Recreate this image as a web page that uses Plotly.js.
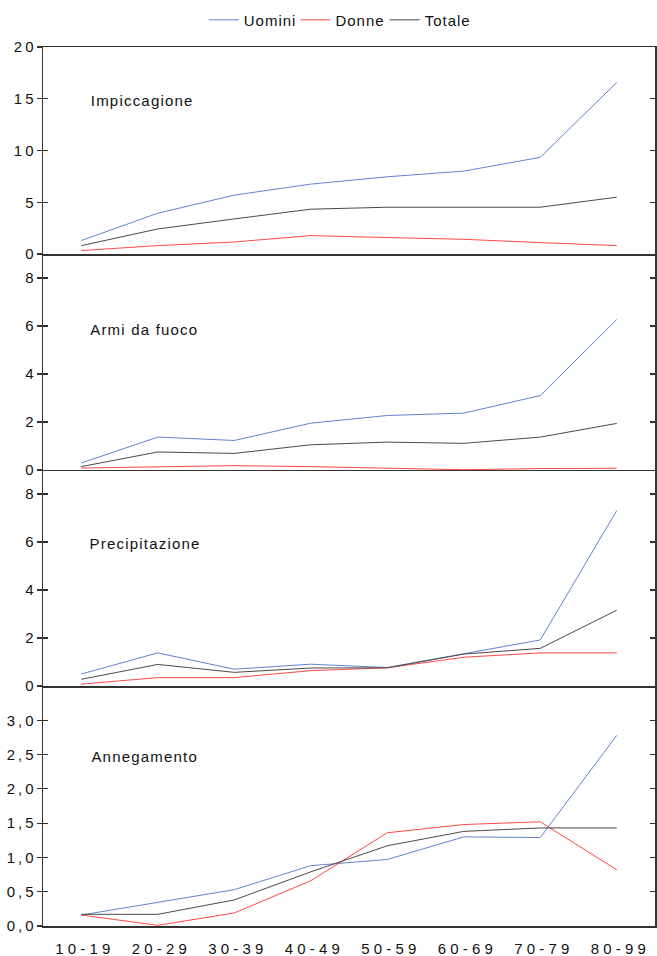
<!DOCTYPE html>
<html><head><meta charset="utf-8">
<script src="https://cdn.plot.ly/plotly-3.0.1.min.js"></script>
<style>
html,body{margin:0;padding:0;background:#fff;}
#chart{width:657px;height:956px;}
#chart .annotation-text{letter-spacing:1.2px;}
#chart .legendtext{letter-spacing:1px;}
</style>
</head><body><div id="chart"></div>
<script>
const categories = ['10-19','20-29','30-39','40-49','50-59','60-69','70-79','80-99'];
const seriesNames = ['Uomini','Donne','Totale'];
const panelTitles = ['Impiccagione','Armi da fuoco','Precipitazione','Annegamento'];

const impUomini = [1.30,3.94,5.69,6.75,7.46,8.01,9.34,16.57];
const impDonne  = [0.33,0.81,1.16,1.78,1.59,1.42,1.10,0.81];
const impTotale = [0.81,2.42,3.39,4.33,4.52,4.52,4.52,5.49];

const armUomini = [0.29,1.37,1.23,1.95,2.27,2.37,3.10,6.27];
const armDonne  = [0.08,0.12,0.18,0.14,0.07,0.01,0.06,0.07];
const armTotale = [0.14,0.75,0.69,1.05,1.16,1.11,1.37,1.94];

const preUomini = [0.50,1.38,0.70,0.91,0.77,1.35,1.92,7.31];
const preDonne  = [0.08,0.35,0.35,0.64,0.76,1.20,1.38,1.38];
const preTotale = [0.28,0.90,0.57,0.75,0.76,1.33,1.57,3.16];

const annUomini = [0.16,0.35,0.53,0.88,0.97,1.30,1.29,2.78];
const annDonne  = [0.16,0.01,0.19,0.66,1.36,1.48,1.52,0.82];
const annTotale = [0.17,0.17,0.38,0.79,1.17,1.38,1.43,1.43];

const yTicks1 = [0,5,10,15,20];
const yTicks2 = [0,2,4,6,8];
const yTicks3 = [0,2,4,6,8];
const yTicks4 = [0,0.5,1,1.5,2,2.5,3];

const panels = [
  {u: impUomini, d: impDonne, t: impTotale, ticks: yTicks1, range:[0,20], lab: 14.8, dec:0},
  {u: armUomini, d: armDonne, t: armTotale, ticks: yTicks2, range:[0,9], lab: 5.85, dec:0},
  {u: preUomini, d: preDonne, t: preTotale, ticks: yTicks3, range:[0,9], lab: 5.95, dec:0},
  {u: annUomini, d: annDonne, t: annTotale, ticks: yTicks4, range:[0,3.5], lab: 2.47, dec:1}
];
const colors = ['#6282d2','#ff4848','#4a4a4a'];
const domains = [[0.7645,1],[0.5188,0.7645],[0.2730,0.5188],[0,0.2730]];

const FONT = 'Liberation Sans, Arial, sans-serif';
const spaced = s => '\u2009' + s.split('').join(' ');
const thin = s => s.split('').join('\u2009');

const traces = [];
const layout = {
  width: 657, height: 956,
  margin: {l: 43, r: 2, t: 47, b: 30},
  paper_bgcolor: '#fff', plot_bgcolor: '#fff',
  separators: ',.',
  showlegend: true,
  font: {family: FONT, size: 15, color: '#111'},
  legend: {orientation: 'h', x: 0.48, xanchor: 'center', yref: 'container', y: 0.979, yanchor: 'middle',
           font: {family: FONT, size: 15, color: '#111'}, itemwidth: 30, tracegroupgap: 0},
  annotations: []
};

panels.forEach((p, i) => {
  const n = i + 1;
  const xa = n === 1 ? 'x' : 'x' + n;
  const ya = n === 1 ? 'y' : 'y' + n;
  [p.u, p.d, p.t].forEach((vals, k) => {
    traces.push({
      type: 'scatter', mode: 'lines', x: categories, y: vals,
      xaxis: xa, yaxis: ya, name: seriesNames[k], legendgroup: seriesNames[k],
      showlegend: i === 0,
      line: {color: colors[k], width: 1}, hoverinfo: 'skip'
    });
  });
  // transparent trace that only binds the overlay (inside-tick) axis
  traces.push({type:'scatter', mode:'lines', x: categories, y: p.t, xaxis: xa, yaxis: 'y' + (n + 4),
    showlegend:false, line:{color: 'rgba(0,0,0,0)', width: 1}, hoverinfo:'skip'});

  const ticktext = p.ticks.map(v => thin(p.dec ? v.toFixed(1).replace('.', ',') : String(v)));
  layout[(n === 1 ? 'xaxis' : 'xaxis' + n)] = {
    type: 'category', range: [-0.5, 7.5], anchor: ya, domain: [0, 1],
    showline: true, linecolor: '#333', linewidth: 1.5, mirror: n === 1,
    showgrid: false, zeroline: false, fixedrange: true,
    ticks: n === 4 ? 'outside' : '', ticklen: 0, tickcolor: 'rgba(0,0,0,0)',
    ticklabelstandoff: 8,
    showticklabels: n === 4,
    tickvals: categories, ticktext: categories.map(spaced),
    tickfont: {family: FONT, size: 15, color: '#111'}
  };
  layout[(n === 1 ? 'yaxis' : 'yaxis' + n)] = {
    domain: domains[i], range: p.range, anchor: xa,
    showline: true, linecolor: '#333', linewidth: 1.5, mirror: 'ticks',
    ticks: 'outside', ticklen: 5, tickwidth: 1.2, tickcolor: '#333',
    tickvals: p.ticks, ticktext: ticktext,
    showgrid: false, zeroline: false, fixedrange: true,
    tickfont: {family: FONT, size: 15, color: '#111'}
  };
  layout['yaxis' + (n + 4)] = {
    overlaying: ya, range: p.range, anchor: xa, side: 'left',
    showline: false, mirror: 'ticks',
    ticks: 'inside', ticklen: 5, tickwidth: 1.2, tickcolor: '#333',
    tickvals: p.ticks, showticklabels: false,
    showgrid: false, zeroline: false, fixedrange: true
  };
  layout.annotations.push({
    text: panelTitles[i], xref: 'paper', x: 0.086, xanchor: 'left',
    yref: ya, y: p.lab, yanchor: 'middle', showarrow: false,
    font: {family: FONT, size: 15, color: '#111'}
  });
});

Plotly.newPlot('chart', traces, layout, {displayModeBar: false, staticPlot: true});
</script>
</body></html>
